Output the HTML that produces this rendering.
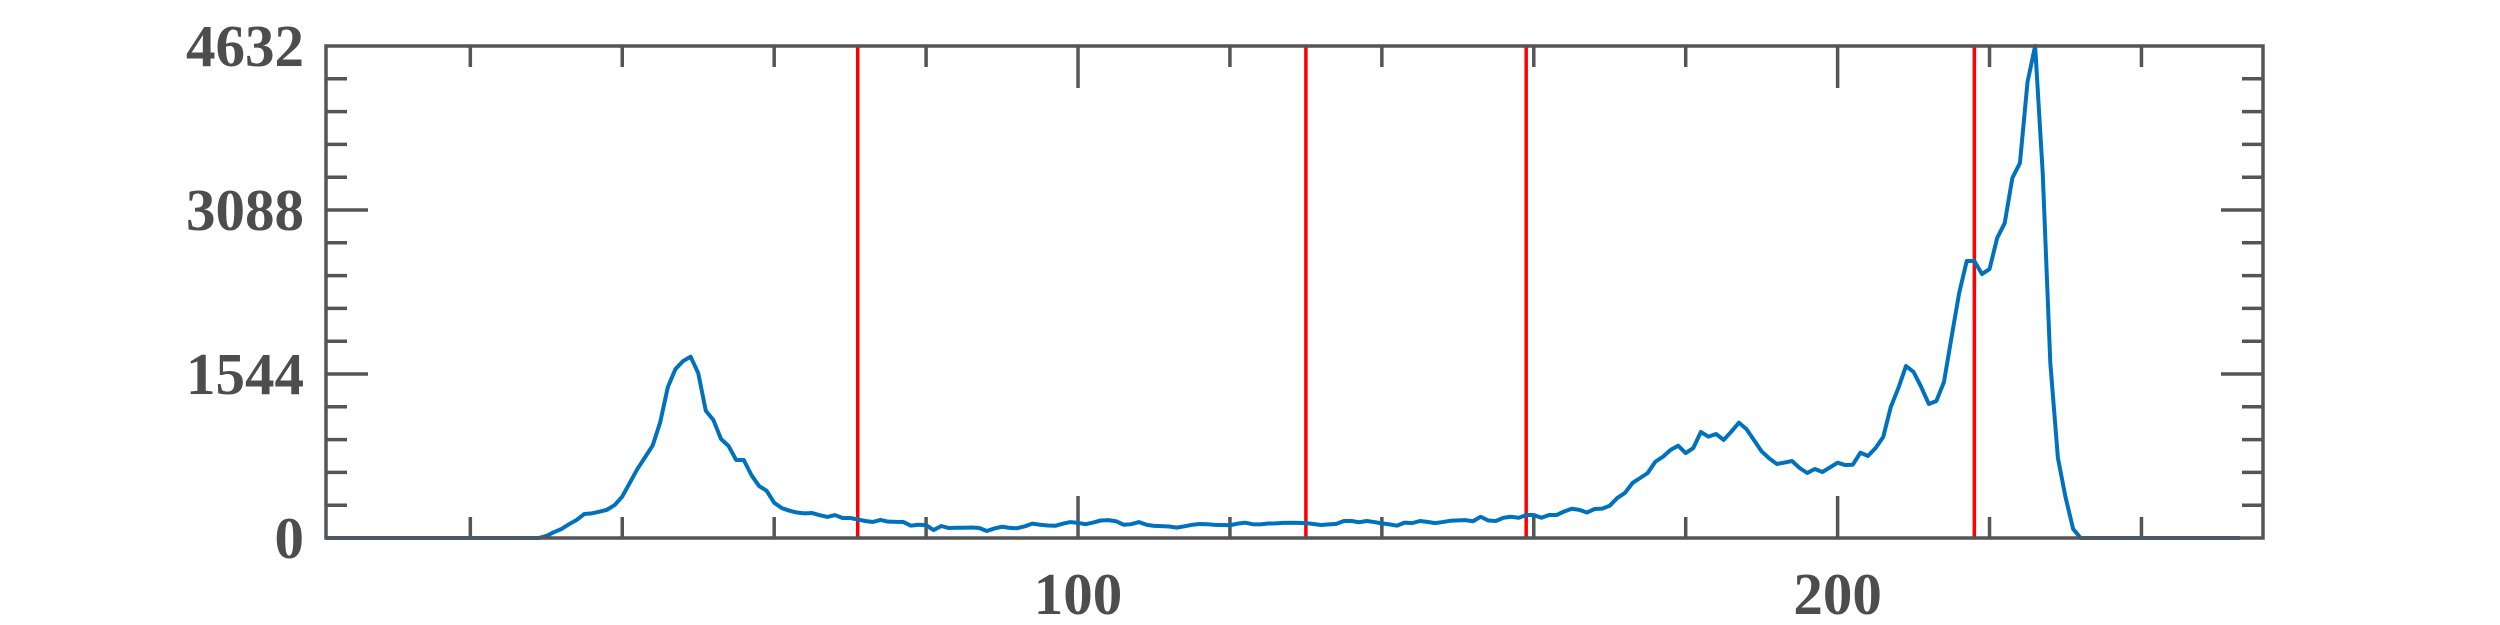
<!DOCTYPE html>
<html><head><meta charset="utf-8">
<style>
html,body{margin:0;padding:0;background:#fff;width:2500px;height:625px;overflow:hidden}
svg{display:block}
text{font-family:"Liberation Serif",serif;font-weight:bold;fill:#4d4d4d}
</style></head>
<body>
<svg id="chart" width="2500" height="625" viewBox="0 0 2500 625" xmlns="http://www.w3.org/2000/svg">
<g id="plot"></g>
</svg>
<script>
const counts = [
0,0,0,0,0,0,0,0,0,0, 0,0,0,0,0,0,0,0,0,0, 0,0,0,0,0,0,0,0,
0,19,55,85,130,170,226,232,248,266,310,390,520,650,760,870,1090,1420,1590,1665,
1707,1553,1198,1111,932,866,734,734,593,490,445,332,282,257,240,232,235,215,198,216,
188,188,175,160,151,170,154,152,151,116,125,120,75,113,94,97,97,99,94,66,
90,106,95,92,110,135,125,118,115,135,150,142,130,145,165,168,158,125,130,150,
125,114,112,108,98,110,124,132,130,124,122,120,135,144,130,128,136,138,142,143,
142,140,132,122,128,133,160,160,148,160,150,138,128,116,145,140,160,152,140,150,
162,166,168,158,200,165,160,190,200,190,216,216,191,216,216,250,275,265,240,273,
276,304,377,424,518,565,612,718,765,829,869,800,847,998,954,979,923,1001,1086,1025,
920,815,750,697,710,725,659,612,650,621,665,709,687,690,803,772,847,951,1233,1412,
1619,1563,1422,1262,1290,1469,1892,2306,2608,2608,2485,2532,2824,2965,3389,3530,4293,4632,3436,1648,
753,386,85,0,0,0,0,0,0,0,0,0,0,0,0,0,0,0,0,0,0,0,0,0,0
];
const thresholds = [71, 130, 159, 218];
const yTickValues = [0, 1544, 3088, 4632];
const yTickLabels = ["0", "1544", "3088", "4632"];
const xTickValues = [100, 200];
const xTickLabels = ["100", "200"];

const L=326,R=2263,T=46,B=538;
const xMin=1,xMax=256,yMin=0,yMax=4632;
const sx=v=>L+(v-xMin)/(xMax-xMin)*(R-L);
const sy=v=>B-(v-yMin)/(yMax-yMin)*(B-T);
const NS="http://www.w3.org/2000/svg";
const g=document.getElementById('plot');
function mk(tag,attrs){const e=document.createElementNS(NS,tag);for(const k in attrs)e.setAttribute(k,attrs[k]);g.appendChild(e);return e;}
const AX="#555555";

// x ticks (minor every 20, major at 100/200)
for(let v=20;v<=240;v+=20){
  const major=xTickValues.includes(v);const len=major?42:21;const x=sx(v);
  const t1=mk('line',{x1:x,y1:B,x2:x,y2:B-len,stroke:AX,'stroke-width':3.5});
  
  
  const t2=mk('line',{x1:x,y1:T,x2:x,y2:T+len,stroke:AX,'stroke-width':3.5});
  
  
}
// y ticks (minor every 1544/5)
for(let i=1;i<15;i++){
  const v=i*1544/5;const major=(i%5===0);const len=major?42:21;const y=sy(v);
  const t1=mk('line',{x1:L,y1:y,x2:L+len,y2:y,stroke:AX,'stroke-width':3.5});
  
  
  const t2=mk('line',{x1:R,y1:y,x2:R-len,y2:y,stroke:AX,'stroke-width':3.5});
  
  
}
// threshold lines
thresholds.forEach(v=>{
  const l=mk('line',{x1:sx(v),y1:T,x2:sx(v),y2:B,stroke:'#ff0000','stroke-width':3.5});
  
  
});
// histogram line
const pts=counts.map((c,i)=>sx(i+1).toFixed(2)+','+sy(c).toFixed(2)).join(' ');
const pl=mk('polyline',{points:pts,fill:'none',stroke:'#0072bd','stroke-width':4,'stroke-linejoin':'round'});


// axes box
const box=mk('rect',{x:L,y:T,width:R-L,height:B-T,fill:'none',stroke:AX,'stroke-width':3.5});


// y labels
yTickValues.forEach((v,i)=>{
  const t=mk('text',{x:L-22,y:sy(v)+20,'text-anchor':'end','font-size':59});
  t.textContent=yTickLabels[i];
  
  
});
// x labels
xTickValues.forEach((v,i)=>{
  const t=mk('text',{x:sx(v),y:614,'text-anchor':'middle','font-size':59});
  t.textContent=xTickLabels[i];
  
  
});
</script>
</body></html>
